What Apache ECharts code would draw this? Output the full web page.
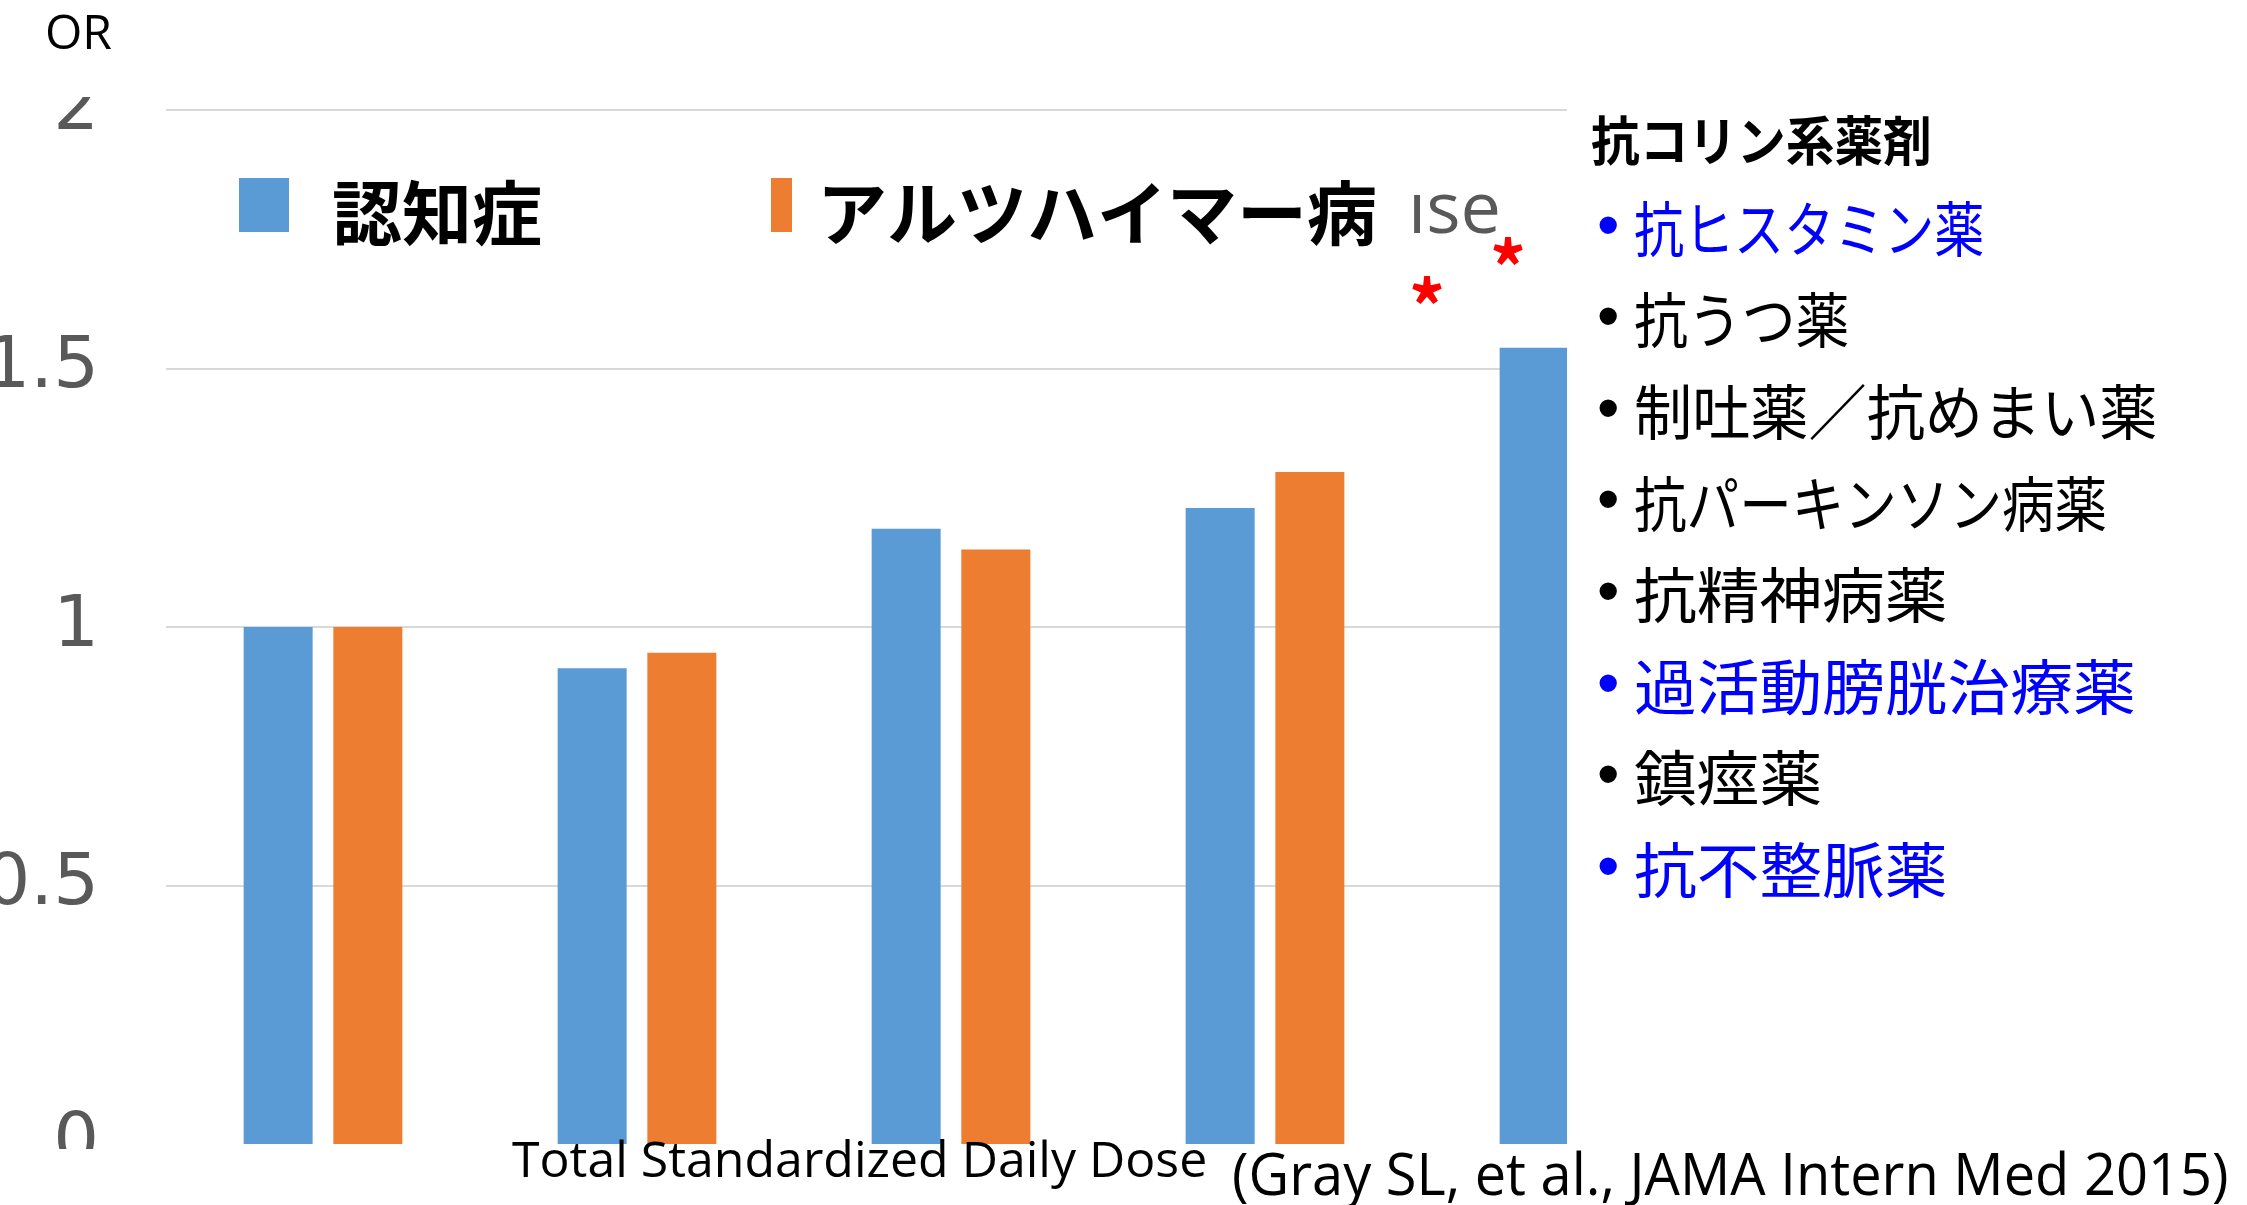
<!DOCTYPE html>
<html>
<head>
<meta charset="utf-8">
<script src="https://cdn.jsdelivr.net/npm/echarts@6/dist/echarts.min.js"></script>
<style>
html,body{margin:0;padding:0;background:#fff;}
#chart{width:2247px;height:1205px;}
</style>
</head>
<body>
<div id="chart"></div>
<script>
// ---- data ----
const categories = ['0', '1-90', '91-365', '366-1095', '>1095'];   // TSDD groups (labels not shown)
const dementia = [1.00, 0.92, 1.19, 1.23, 1.54];
const alzheimer = [1.00, 0.95, 1.15, 1.30, null];                  // 5th bar hidden behind the side panel
const yTicks = [0, 0.5, 1, 1.5, 2];
const seriesNames = ['認知症', 'アルツハイマー病'];
const legendRemnant = 'ise';
const yAxisTitle = 'OR';
const xAxisTitle = 'Total Standardized Daily Dose';
const citation = '(Gray SL, et al., JAMA Intern Med 2015)';
const drugTitle = '抗コリン系薬剤';
const drugs = ['抗ヒスタミン薬', '抗うつ薬', '制吐薬／抗めまい薬', '抗パーキンソン病薬', '抗精神病薬', '過活動膀胱治療薬', '鎮痙薬', '抗不整脈薬'];
const drugHighlighted = [true, false, false, false, false, true, false, true];

// ---- chart ----
const BLUE = '#5B9BD5', ORANGE = '#ED7D31';
const JP = '"Noto Sans CJK JP"';
const chart = echarts.init(document.getElementById('chart'));

// proportional-font look: kana narrower than kanji
function estWidth(str, f) {
  let w = 0;
  for (const c of str) {
    if (c === 'ー') w += 1.0 * f;
    else if (/[\u3040-\u30ff]/.test(c)) w += 0.75 * f;
    else if (c === '／') w += 1.25 * f;
    else w += 1.045 * f;
  }
  return w;
}
function jpText(str, x, y, f, color, bold) {
  const n = Array.from(str).length;
  return {type:'text', z:110, x:x, y:y, scaleX: estWidth(str, f) / (n * f), originX:0, originY:0,
    style:{text:str, font:(bold ? 'bold ' : '') + f + 'px ' + JP, fill:color, textAlign:'left', textVerticalAlign:'middle'}};
}

const graphics = [];
// white masks (clipped look of original)
graphics.push({type:'rect', z:100, shape:{x:1567, y:0, width:700, height:1205}, style:{fill:'#fff'}});
graphics.push({type:'rect', z:100, shape:{x:0, y:58, width:160, height:39}, style:{fill:'#fff'}});
graphics.push({type:'rect', z:100, shape:{x:0, y:1149, width:160, height:60}, style:{fill:'#fff'}});
// y axis title
graphics.push({type:'text', z:110, x:45, y:35, style:{text:yAxisTitle, font:'48px "Open Sans"', fill:'#000', textAlign:'left', textVerticalAlign:'middle'}});
// legend remnant
graphics.push({type:'text', z:110, x:1408, y:212, style:{text:legendRemnant, font:'72px "Open Sans"', fill:'#595959', textAlign:'left', textVerticalAlign:'middle'}});
graphics.push({type:'rect', z:111, shape:{x:1400, y:150, width:30, height:42}, style:{fill:'#fff'}});
// significance asterisks
graphics.push({type:'text', z:110, x:1508, y:268, style:{text:'*', font:'bold 72px ' + JP, fill:'#FF0000', textAlign:'center', textVerticalAlign:'middle'}});
graphics.push({type:'text', z:110, x:1427, y:307, style:{text:'*', font:'bold 72px ' + JP, fill:'#FF0000', textAlign:'center', textVerticalAlign:'middle'}});
// side panel
graphics.push(jpText(drugTitle, 1591, 141, 53, '#000', true));
drugs.forEach((d, i) => {
  const y = 229 + i * 91.6;
  const c = drugHighlighted[i] ? '#0000FF' : '#000000';
  graphics.push({type:'text', z:110, x:1597, y:y, style:{text:'•', font:'64px "Liberation Sans"', fill:c, textAlign:'left', textVerticalAlign:'middle'}});
  graphics.push(jpText(d, 1634, y, 60, c, false));
});
// bottom texts
graphics.push({type:'text', z:110, x:512, y:1163, style:{text:xAxisTitle, font:'50px "Open Sans"', fill:'#000', textAlign:'left', textVerticalAlign:'middle'}});
graphics.push({type:'text', z:110, x:1232, y:1178, scaleX:0.965, originX:0, originY:0, style:{text:citation, font:'58px "Open Sans"', fill:'#000', textAlign:'left', textVerticalAlign:'middle'}});

function legendRich(padLeft) {
  return {rich:{t:{fontSize:70, fontWeight:'bold', color:'#000', fontFamily:'Noto Sans CJK JP', padding:[16,0,0,padLeft]}}};
}
chart.setOption({
  animation:false,
  backgroundColor:'#fff',
  grid:{left:166, right:511, top:110, bottom:61, containLabel:false, outerBoundsMode:'none'},
  legend:[
    {data:[seriesNames[0]], left:239, top:178, padding:0, icon:'rect', itemWidth:50, itemHeight:54,
     formatter:'{t|{name}}', textStyle:legendRich(38)},
    {data:[seriesNames[1]], left:771, top:178, padding:0, icon:'rect', itemWidth:21, itemHeight:54,
     formatter:'{t|{name}}', textStyle:legendRich(20)}
  ],
  xAxis:{type:'category', data:categories, axisLine:{show:false}, axisTick:{show:false}, axisLabel:{show:false}},
  yAxis:{type:'value', min:yTicks[0], max:yTicks[yTicks.length-1], interval:0.5,
    axisLine:{show:false}, axisTick:{show:false},
    axisLabel:{margin:67, color:'#595959', fontSize:72, fontFamily:'DejaVu Sans'},
    splitLine:{showMinLine:false, lineStyle:{color:'#D9D9D9', width:2}}},
  series:[
    {name:seriesNames[0], type:'bar', data:dementia, barWidth:69, barGap:'30%', itemStyle:{color:BLUE}},
    {name:seriesNames[1], type:'bar', data:alzheimer, barWidth:69, barGap:'30%', itemStyle:{color:ORANGE}}
  ],
  graphic:graphics
});
</script>
</body>
</html>
